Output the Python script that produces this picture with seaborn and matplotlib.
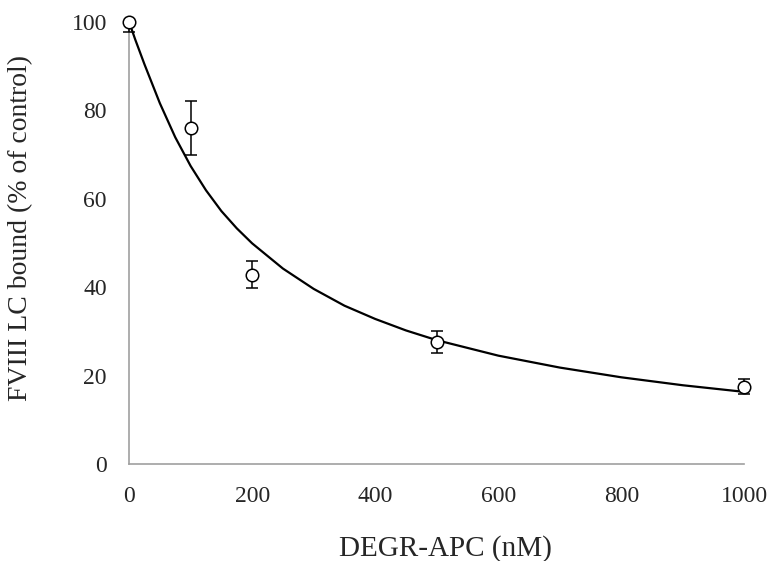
import matplotlib
matplotlib.use("Agg")
import matplotlib.pyplot as plt
import seaborn as sns
import pandas as pd

# measured points (mean, lower / upper error)
conc = [0, 100, 200, 500, 1000]
bound = [100.0, 76.0, 42.8, 27.6, 17.5]
err_lo = [2.2, 6.2, 3.0, 2.5, 1.7]
err_hi = [0.0, 6.2, 3.0, 2.5, 1.7]  # top bar at 100 is cut off by the plot area

# fitted curve
fit_x = [0, 10, 25, 50, 75, 100, 125, 150, 175, 200, 250, 300, 350,
         400, 450, 500, 600, 700, 800, 900, 1000]
fit_y = [100.0, 96.0, 90.4, 81.6, 73.9, 67.4, 61.9, 57.2, 53.3, 49.9,
         44.2, 39.6, 35.8, 32.8, 30.2, 28.0, 24.5, 21.8, 19.6, 17.8, 16.3]

sns.set_style("white")
plt.rcParams['font.family'] = ['Liberation Serif', 'DejaVu Serif']

fig = plt.figure(figsize=(7.73, 5.61), dpi=100)
ax = fig.add_axes([0.167, 0.173, 0.796, 0.788])

fit = pd.DataFrame({"x": fit_x, "y": fit_y})
sns.lineplot(data=fit, x="x", y="y", ax=ax, color="black", linewidth=1.6)

ax.errorbar(conc, bound, yerr=[err_lo, err_hi], fmt="none", ecolor="black",
            elinewidth=1.1, capsize=4.5, capthick=1.1, zorder=3, clip_on=False)
ax.plot(conc, bound, "o", markersize=9, markerfacecolor="white",
        markeredgecolor="black", markeredgewidth=1.1, zorder=4, clip_on=False)

ax.set_xlim(0, 1000)
ax.set_ylim(0, 100)
ax.set_xticks(range(0, 1001, 200))
ax.set_yticks(range(0, 101, 20))
for s in ["top", "right"]:
    ax.spines[s].set_visible(False)
for s in ["left", "bottom"]:
    ax.spines[s].set_color("#a0a0a0")
    ax.spines[s].set_linewidth(1.2)
ax.tick_params(axis="both", direction="out", length=6, width=1.2,
               color="#a0a0a0", labelsize=17)
ax.tick_params(axis="y", pad=10)
ax.tick_params(axis="x", pad=10)

ax.set_xlabel("DEGR-APC (nM)", fontsize=21)
ax.set_ylabel("FVIII LC bound (% of control)", fontsize=20)
ax.xaxis.set_label_coords(0.514, -0.16)
ax.yaxis.set_label_coords(-0.156, 0.534)

fig.savefig("out.png", dpi=100)
